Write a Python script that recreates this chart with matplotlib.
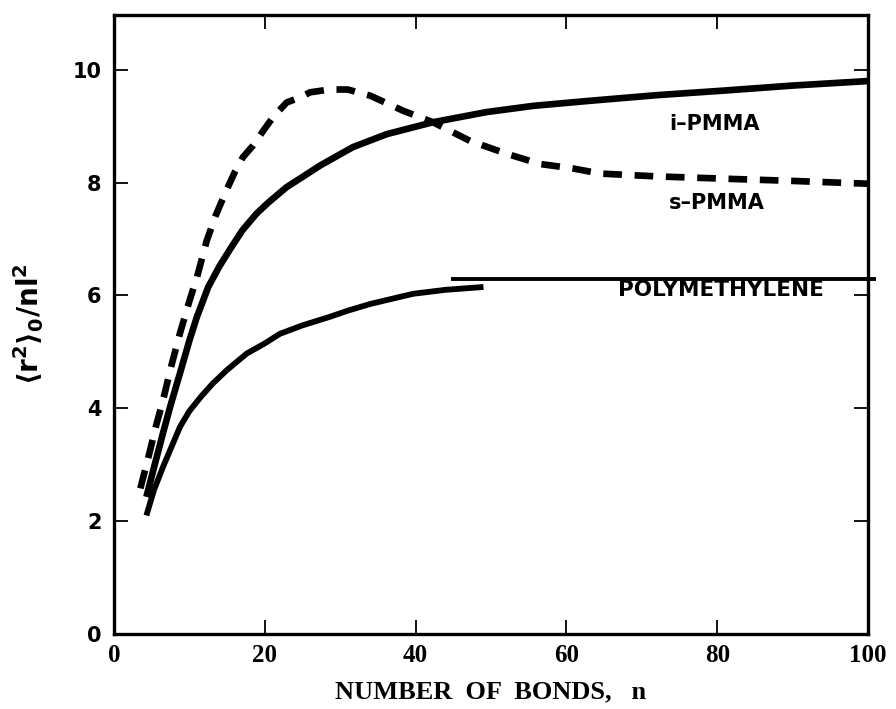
import matplotlib
matplotlib.use('Agg')
import matplotlib.pyplot as plt

# values
s_pmma_n = [3.5, 4.8, 5.6, 6.5, 7.6, 8.75, 10, 11, 12.3, 13.5, 14.9, 16, 17.1, 18.4, 19.8,
            21.1, 22.9, 24.7, 26, 28.6, 31, 34, 38.4, 42.3, 47.2, 52.1, 56.5, 60.9, 64.5,
            72, 80.8, 90, 100]
s_pmma_v = [2.58, 3.26, 3.7, 4.14, 4.75, 5.33, 5.9, 6.32, 6.97, 7.42, 7.86, 8.18, 8.45, 8.65, 8.92,
            9.16, 9.42, 9.51, 9.6, 9.65, 9.65, 9.54, 9.27, 9.07, 8.74, 8.51, 8.33, 8.25, 8.16,
            8.11, 8.07, 8.03, 7.98]

i_pmma_n = [4.3, 5.5, 6.5, 7.5, 8.75, 10, 11, 12.5, 14, 15.4, 17, 18.9, 20.5, 22.9, 25, 27.3,
            31.7, 36.2, 42.3, 49.4, 55.6, 63.1, 72, 80.8, 90, 100]
i_pmma_v = [2.43, 3.05, 3.56, 4.05, 4.62, 5.2, 5.62, 6.15, 6.52, 6.82, 7.15, 7.45, 7.65, 7.92, 8.1,
            8.3, 8.63, 8.86, 9.07, 9.25, 9.36, 9.45, 9.55, 9.63, 9.72, 9.8]

pm_n = [4.3, 5.3, 6.5, 8.75, 10, 11.5, 13.1, 15, 17.6, 20, 22, 25, 28.6, 31, 34, 39.7, 44, 49]
pm_v = [2.1, 2.55, 2.96, 3.67, 3.95, 4.2, 4.44, 4.68, 4.97, 5.15, 5.32, 5.47, 5.62, 5.73, 5.85,
        6.03, 6.1, 6.15]

limit_n = [44.7, 101]
limit_v = [6.3, 6.3]

xticks = [0, 20, 40, 60, 80, 100]
yticks = [0, 2, 4, 6, 8, 10]

plt.rcParams['mathtext.default'] = 'regular'

fig = plt.figure(figsize=(8.96, 7.09), dpi=100)
ax = fig.add_axes([0.1272, 0.1058, 0.8416, 0.873])

ax.plot(i_pmma_n, i_pmma_v, color='black', lw=4.8, solid_capstyle='butt', solid_joinstyle='round')
ax.plot(pm_n, pm_v, color='black', lw=4.2, solid_capstyle='butt', solid_joinstyle='round')
ax.plot(s_pmma_n, s_pmma_v, color='black', lw=4.8, dashes=(2.8, 1.9), dash_capstyle='butt',
        dash_joinstyle='round')
ax.plot(limit_n, limit_v, color='black', lw=2.8, clip_on=False, solid_capstyle='butt')

ax.text(79.6, 9.04, 'i\u2013PMMA', fontsize=15, fontweight='bold', ha='center', va='center')
ax.text(80, 7.63, 's\u2013PMMA', fontsize=15, fontweight='bold', ha='center', va='center')
ax.text(80.5, 6.09, 'POLYMETHYLENE', fontsize=15.5, fontweight='bold', ha='center', va='center')

ax.set_xlim(0, 100)
ax.set_ylim(0, 10.97)
ax.set_xticks(xticks)
ax.set_yticks(yticks)
ax.set_xticklabels([str(t) for t in xticks], family='Liberation Serif', fontweight='bold', fontsize=18)
ax.set_yticklabels([str(t) for t in yticks], family='DejaVu Sans', fontweight='bold', fontsize=15)
ax.tick_params(direction='in', length=10, width=1.3, top=True, right=True)
ax.tick_params(axis='x', pad=7)
ax.tick_params(axis='y', pad=9)
for side in ax.spines.values():
    side.set_linewidth(2.4)

ax.set_xlabel('NUMBER  OF  BONDS,   n', family='Liberation Serif', fontweight='bold',
              fontsize=19, labelpad=10)
ax.set_ylabel(r'$\langle r^{2}\rangle_{0}/nl^{2}$', fontweight='bold', fontsize=20)
ax.yaxis.set_label_coords(-0.09, 0.5)

fig.savefig('out.png', dpi=100)
